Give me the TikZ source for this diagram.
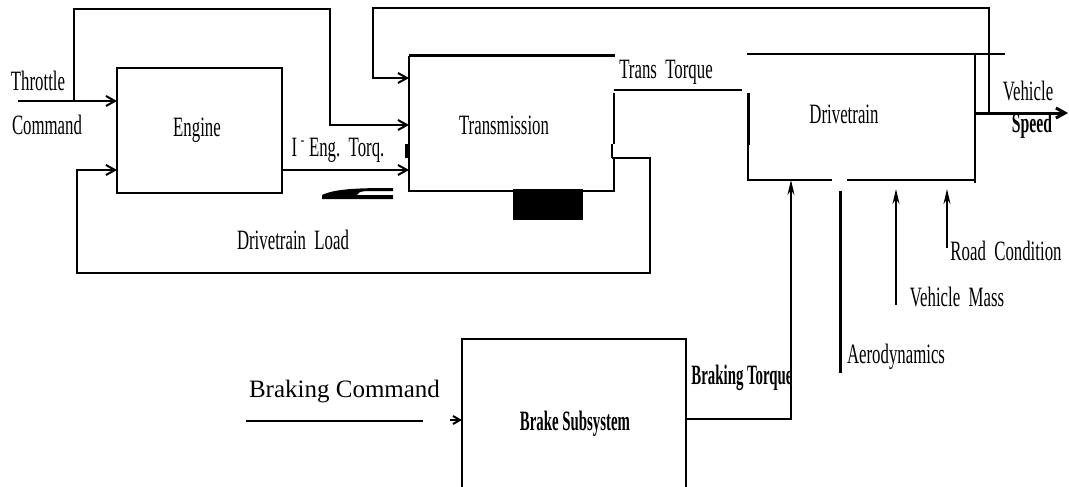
\documentclass[tikz,border=0pt]{standalone}
\usepackage{fontspec}
\setmainfont{Liberation Serif}
\usetikzlibrary{arrows.meta,calc}
\newcommand{\cnd}[1]{\scalebox{0.6}[1]{#1}}
\newcommand{\cnb}[2]{\scalebox{#1}[1]{\bfseries #2}}
\begin{document}
\begin{tikzpicture}[x=1pt,y=-1pt,line width=2pt,
  lbl/.style={font=\fontsize{28}{28}\selectfont,inner sep=0pt,anchor=base},
  boxn/.style={draw=none,rectangle,inner sep=0pt,outer sep=0pt},
  arr/.style={-{Straight Barb[length=9pt,width=10pt]}},
  varr/.style={-{Stealth[length=15pt,width=7pt]}},
  thick3/.style={line width=3pt}]
\fill[white] (0,0) rectangle (1069,487);
\useasboundingbox (0,0) rectangle (1069,487);

% box anchors
\node[boxn,draw,minimum width=165pt,minimum height=125pt] (eng) at (199.5,130.5) {};
\node[boxn,minimum width=205pt,minimum height=135pt] (trans) at (511.5,123.5) {};
\node[boxn,minimum width=227pt,minimum height=126pt] (drv) at (861.5,117) {};
\node[boxn,minimum width=224pt,minimum height=148pt] (brk) at (574,413) {};

% transmission outline (as printed)
\draw[thick3] (trans.north west) -- ($(trans.north east)+(1,0)$);
\draw (trans.north west) -- (trans.south west) -- (513,191);
\fill (513,189) rectangle (583,220);
\draw (583,191) -- (trans.south east) -- (614,158);
\draw (614,93) -- (614,144);
\draw (612,144) -- (612,158);
\draw[line width=3.5pt] (407,144) -- (407,158);

% drivetrain outline (as printed)
\draw (747,54) -- (1005,54);
\draw (975,54) -- (975,183);
\draw[thick3] (748,93) -- (748,145);
\draw (748,145) -- (drv.south west) -- (832,180);
\draw (847,180) -- (drv.south east);

% brake outline (continues below the page)
\draw (brk.south west) -- (brk.north west) -- (brk.north east) -- (brk.south east);

% labels
\node[lbl] (tthr) at (38,91) {\cnd{Throttle}};
\node[lbl] (tcmd) at (47,135) {\cnd{Command}};
\node[lbl] (teng) at (197,136) {\cnd{Engine}};
\node[lbl] (ttq) at (338,157) {\cnd{I\hspace{6pt}\raisebox{12pt}{\scalebox{0.6}{-}}\hspace{8pt}Eng.\ \ Torq.}};
\node[lbl] (ttrans) at (504,135) {\cnd{Transmission}};
\node[lbl] (ttt) at (666,78) {\cnd{Trans\ \ Torque}};
\node[lbl] (tdrv) at (844,123) {\cnd{Drivetrain}};
\node[lbl] (tveh) at (1028,100) {\cnd{Vehicle}};
\node[lbl] (tspd) at (1032,132) {\cnb{0.56}{Speed}};
\node[lbl] (tload) at (293,249) {\cnd{Drivetrain\ \ Load}};
\node[lbl,font=\fontsize{25}{25}\selectfont] (tbc) at (344.5,397) {Braking Command};
\node[lbl] (tbs) at (575,430) {\cnb{0.53}{Brake Subsystem}};
\node[lbl] (tbt) at (742,384) {\cnb{0.53}{Braking Torque}};
\node[lbl] (taero) at (896,363) {\cnd{Aerodynamics}};
\node[lbl] (tmass) at (957,306) {\cnd{Vehicle\ \ Mass}};
\node[lbl] (troad) at (1006,260) {\cnd{Road\ \ Condition}};

% connectors
\coordinate (thrin) at (18,101);
\coordinate (j1) at (74,101);
\coordinate (a1) at (330,125);
\draw[arr] (thrin) -- (thrin -| eng.west);
\draw[arr] (j1) -- (74,9) -- (330,9) -- (a1) -- (a1 -| trans.west);

\coordinate (vsout) at (1068,113);
\coordinate (fb) at (989,113);
\coordinate (a2) at (373,78);
\draw[arr,thick3] (vsout -| drv.east) -- (vsout);
\draw[arr] (fb) -- (989,8) -- (373,8) -- (a2) -- (a2 -| trans.west);

\coordinate (ety) at (282,170);
\draw[arr] (ety) -- (ety -| trans.west);

\coordinate (dl) at (612,158);
\draw[arr] (dl) -- (650,158) -- (650,273) -- (77,273) -- (77,170) -- (ety -| eng.west);

\coordinate (tt) at (742,90);
\draw (tt -| trans.east) -- (tt);

\coordinate (bcs) at (246,421);
\coordinate (bce) at (423,421);
\draw (bcs) -- (bce);
\coordinate (bca) at (450,420);
\draw[-{Straight Barb[length=7pt,width=8pt]}] (bca) -- (bca -| brk.west);

\coordinate (bt) at (791,419);
\draw[varr] (bt -| brk.east) -- (bt) -- (bt |- drv.south);

\coordinate (aero) at (840,373);
\draw[thick3] (aero) -- (840,191);

\coordinate (vm) at (896,305);
\draw[varr,shorten >=9pt] (vm) -- (vm |- drv.south);
\coordinate (rc) at (947,248);
\draw[varr,shorten >=9pt] (rc) -- (rc |- drv.south);

% scan artefact under the engine torque arrow
\fill (322,199) -- (322,195) .. controls (335,189) and (355,188) .. (393,188) -- (393,191) -- (366,191) .. controls (359,192) .. (357,195) -- (393,195) -- (393,199) -- cycle;
\end{tikzpicture}
\end{document}
